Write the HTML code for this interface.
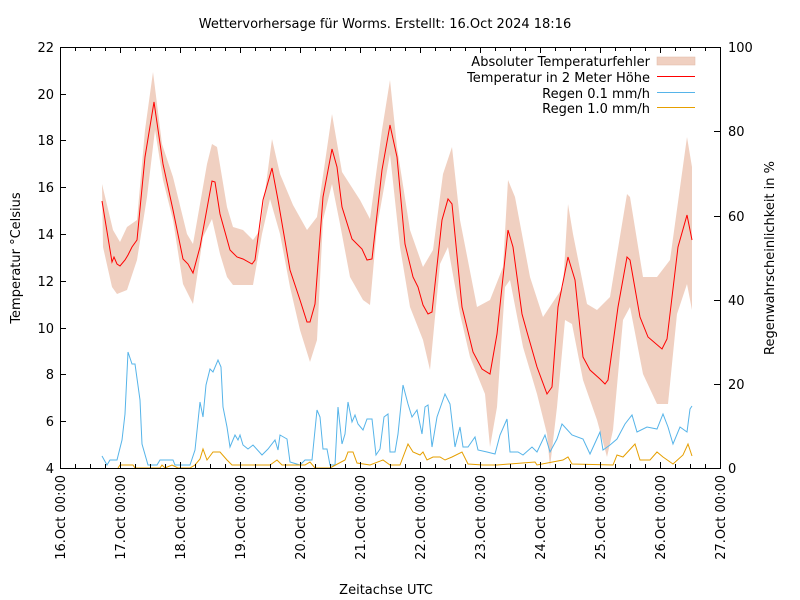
<!DOCTYPE html>
<html><head><meta charset="utf-8"><style>body{margin:0;background:#fff}svg{display:block}text{font-family:"DejaVu Sans","Liberation Sans",sans-serif;font-size:13px;fill:#000}</style></head><body>
<svg width="800" height="600" viewBox="0 0 800 600" xmlns="http://www.w3.org/2000/svg">
<text x="385" y="28" text-anchor="middle" font-size="12.5">Wettervorhersage für Worms. Erstellt: 16.Oct 2024 18:16</text>
<polygon fill="#f0d0c1" points="102,184 113,230 120,242 127,227 137,220 145,130 153,72 162,144 173,177 187,234 193,244 207,164 212,144 217,147 227,207 233,227 243,230 253,240 260,230 272,139 280,174 293,205 307,230 317,217 332,114 342,172 360,200 370,219 382,130 390,80 397,147 410,230 423,267 433,250 443,174 452,147 460,220 477,307 490,300 503,267 508,180 515,197 530,277 543,317 563,287 568,204 573,234 587,304 597,310 610,297 627,194 630,197 643,277 657,277 670,260 687,137 692,167 692,310 687,284 677,314 668,404 657,404 643,374 630,307 623,320 613,430 607,457 597,420 583,380 572,324 565,320 557,407 550,467 547,434 537,394 523,347 510,280 505,287 497,407 490,447 485,394 470,357 460,314 448,247 440,264 430,370 423,340 410,307 400,247 390,154 377,227 370,305 363,300 350,277 340,224 332,184 323,220 317,340 310,362 300,330 290,287 280,234 270,199 262,234 253,285 233,285 227,277 220,254 212,219 203,237 193,304 183,284 173,220 163,180 155,130 147,197 137,260 127,290 117,294 112,287 103,247"/>
<polyline fill="none" stroke="#ff0000" stroke-width="1" points="102,201 112,262 114,257 117,264 120,266 125,260 128,255 132,247 137,240 145,157 154,102 163,164 173,210 183,259 188,264 193,273 200,247 212,181 215,182 220,214 230,250 237,257 243,259 252,264 255,260 263,200 272,168 278,200 290,270 300,300 307,322 310,322 315,304 323,197 332,149 337,167 342,207 352,239 362,249 367,260 372,259 382,170 390,125 397,157 405,244 413,277 418,287 423,305 428,314 432,312 442,220 448,199 452,204 462,307 473,352 482,369 490,374 497,334 508,230 513,247 522,314 527,332 537,367 547,394 552,387 558,307 568,257 575,280 583,357 590,370 600,379 605,384 608,380 618,307 627,257 630,260 640,317 648,337 662,349 667,339 678,247 687,215 692,240"/>
<polyline fill="none" stroke="#56b4e9" stroke-width="1" points="102,456 107,465 110,460 117,460 122,440 125,414 128,352 132,364 135,364 140,400 142,444 148,465 157,465 160,460 173,460 175,465 190,465 195,450 200,402 203,417 206,385 210,369 213,372 218,360 221,367 223,407 227,427 230,447 235,435 238,440 240,435 243,445 248,449 253,445 262,455 268,449 275,440 278,450 280,435 287,439 290,462 300,465 305,460 312,460 317,410 320,417 323,449 327,449 330,465 335,465 338,407 342,444 345,434 348,402 352,422 355,415 358,424 363,430 367,419 372,419 376,455 380,449 384,417 388,414 390,452 395,452 398,434 403,385 408,404 412,417 417,410 422,434 425,407 428,405 432,447 437,417 445,394 450,404 455,447 460,427 463,447 468,447 475,437 478,450 487,452 495,454 500,435 507,419 510,452 518,452 523,455 532,447 537,452 545,435 550,452 557,439 562,424 572,435 583,439 590,454 600,432 603,450 610,445 617,439 625,424 632,415 637,432 647,427 657,429 663,414 668,427 673,444 680,427 687,432 690,409 692,406"/>
<polyline fill="none" stroke="#e69f00" stroke-width="1" points="118,468 120,465 133,465 135,468 160,468 162,465 165,468 172,465 178,468 190,468 195,465 200,459 203,449 207,460 213,452 220,452 227,460 232,465 270,465 277,460 282,465 305,465 310,462 315,468 330,468 345,460 348,452 353,452 357,463 370,465 383,460 390,465 400,465 408,444 413,452 420,455 423,452 427,460 433,457 440,457 445,460 452,457 462,452 468,464 483,465 497,465 535,462 537,465 563,460 568,457 572,464 613,465 617,455 623,457 635,444 640,460 650,460 657,452 663,457 673,464 683,455 688,444 692,456"/>
<g stroke="#000" stroke-width="1" fill="none">
<rect x="60.5" y="47.5" width="660" height="421"/>
<path d="M60,421.5h6M60,374.5h6M60,328.5h6M60,281.5h6M60,234.5h6M60,187.5h6M60,140.5h6M60,94.5h6M720,384.5h-6M720,300.5h-6M720,216.5h-6M720,131.5h-6"/>
<path d="M75.5,468v-4M90.5,468v-4M105.5,468v-4M120.5,468v-6M135.5,468v-4M150.5,468v-4M165.5,468v-4M180.5,468v-6M195.5,468v-4M210.5,468v-4M225.5,468v-4M240.5,468v-6M255.5,468v-4M270.5,468v-4M285.5,468v-4M300.5,468v-6M315.5,468v-4M330.5,468v-4M345.5,468v-4M360.5,468v-6M375.5,468v-4M390.5,468v-4M405.5,468v-4M420.5,468v-6M435.5,468v-4M450.5,468v-4M465.5,468v-4M480.5,468v-6M495.5,468v-4M510.5,468v-4M525.5,468v-4M540.5,468v-6M555.5,468v-4M570.5,468v-4M585.5,468v-4M600.5,468v-6M615.5,468v-4M630.5,468v-4M645.5,468v-4M660.5,468v-6M675.5,468v-4M690.5,468v-4M705.5,468v-4"/>
<path d="M75.5,47v4M90.5,47v4M105.5,47v4M120.5,47v6M135.5,47v4M150.5,47v4M165.5,47v4M180.5,47v6M195.5,47v4M210.5,47v4M225.5,47v4M240.5,47v6M255.5,47v4M270.5,47v4M285.5,47v4M300.5,47v6M315.5,47v4M330.5,47v4M345.5,47v4M360.5,47v6M375.5,47v4M390.5,47v4M405.5,47v4M420.5,47v6M435.5,47v4M450.5,47v4M465.5,47v4M480.5,47v6M495.5,47v4M510.5,47v4M525.5,47v4M540.5,47v6M555.5,47v4M570.5,47v4M585.5,47v4M600.5,47v6M615.5,47v4M630.5,47v4M645.5,47v4M660.5,47v6M675.5,47v4M690.5,47v4M705.5,47v4"/>
</g>
<g text-anchor="end">
<text x="54" y="473">4</text><text x="54" y="426">6</text><text x="54" y="379">8</text><text x="54" y="333">10</text><text x="54" y="286">12</text><text x="54" y="239">14</text><text x="54" y="192">16</text><text x="54" y="145">18</text><text x="54" y="99">20</text><text x="54" y="52">22</text>
</g>
<g>
<text x="728" y="473">0</text><text x="728" y="389">20</text><text x="728" y="305">40</text><text x="728" y="221">60</text><text x="728" y="136">80</text><text x="728" y="52">100</text>
</g>
<g text-anchor="end">
<text transform="translate(65,475) rotate(-90)">16.Oct 00:00</text>
<text transform="translate(125,475) rotate(-90)">17.Oct 00:00</text>
<text transform="translate(185,475) rotate(-90)">18.Oct 00:00</text>
<text transform="translate(245,475) rotate(-90)">19.Oct 00:00</text>
<text transform="translate(305,475) rotate(-90)">20.Oct 00:00</text>
<text transform="translate(365,475) rotate(-90)">21.Oct 00:00</text>
<text transform="translate(425,475) rotate(-90)">22.Oct 00:00</text>
<text transform="translate(485,475) rotate(-90)">23.Oct 00:00</text>
<text transform="translate(545,475) rotate(-90)">24.Oct 00:00</text>
<text transform="translate(605,475) rotate(-90)">25.Oct 00:00</text>
<text transform="translate(665,475) rotate(-90)">26.Oct 00:00</text>
<text transform="translate(725,475) rotate(-90)">27.Oct 00:00</text>
</g>
<text x="386" y="594" text-anchor="middle">Zeitachse UTC</text>
<text transform="translate(20,258) rotate(-90)" text-anchor="middle">Temperatur °Celsius</text>
<text transform="translate(774,258) rotate(-90)" text-anchor="middle">Regenwahrscheinlichkeit in %</text>
<g text-anchor="end">
<text x="650" y="66">Absoluter Temperaturfehler</text>
<text x="650" y="82">Temperatur in 2 Meter Höhe</text>
<text x="650" y="98">Regen 0.1 mm/h</text>
<text x="650" y="113">Regen 1.0 mm/h</text>
</g>
<rect x="657" y="57" width="38" height="8" fill="#f0d0c1" stroke="#e0b8a5" stroke-width="0.5"/>
<path d="M657,76.5h38" stroke="#ff0000"/>
<path d="M657,92.5h38" stroke="#56b4e9"/>
<path d="M657,107.5h38" stroke="#e69f00"/>
</svg>
</body></html>
